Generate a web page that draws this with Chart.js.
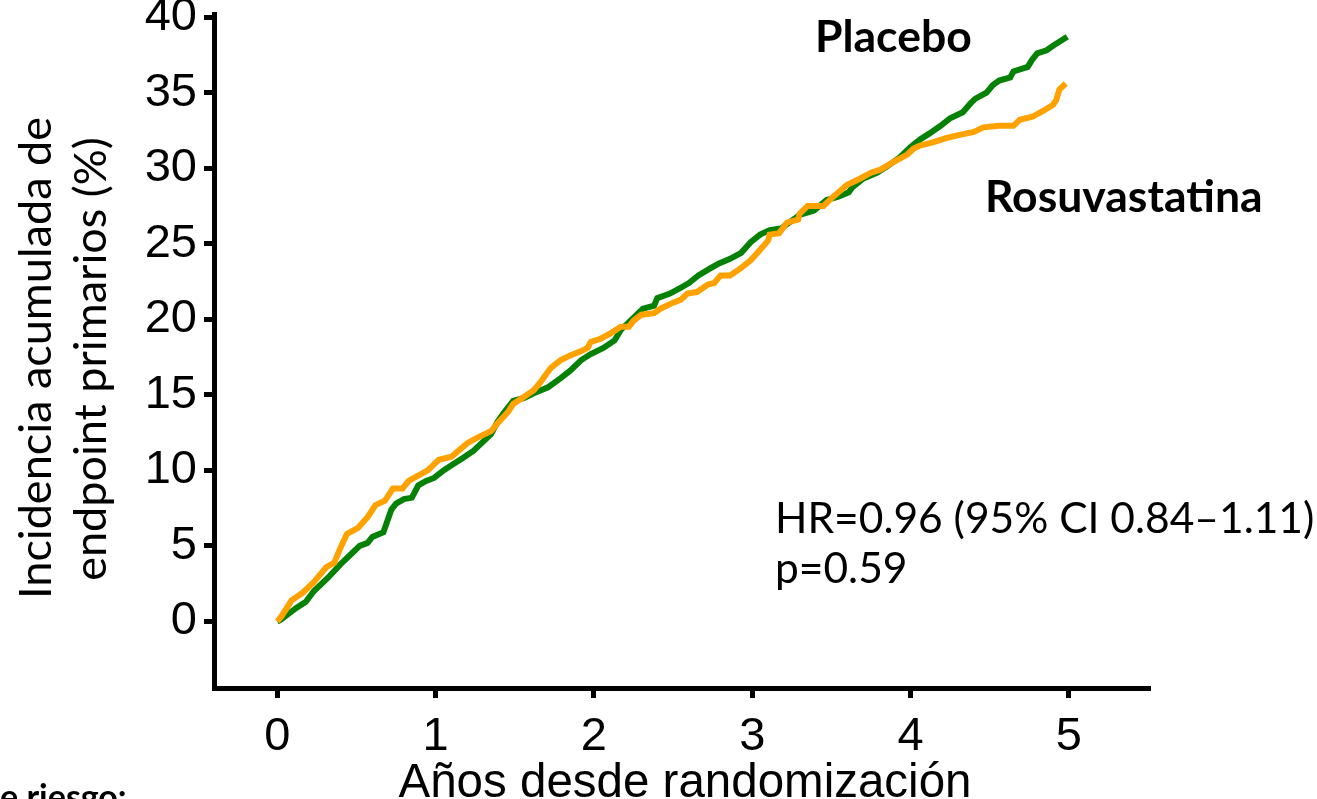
<!DOCTYPE html>
<html>
<head>
<meta charset="utf-8">
<script src="https://cdn.jsdelivr.net/npm/chart.js@4.4.0/dist/chart.umd.min.js"></script>
<style>
  html, body { margin: 0; padding: 0; background: #fff; }
  #wrap { width: 1317px; height: 799px; }
</style>
</head>
<body>
<div id="wrap"><canvas id="chart" width="1317" height="799"></canvas></div>
<script>
// Cumulative incidence of the primary endpoint (%) by years since randomization
const placeboYears = [0, 0.02, 0.12, 0.18, 0.23, 0.32, 0.40, 0.47, 0.52, 0.57, 0.60, 0.67, 0.69, 0.72, 0.75, 0.80, 0.85, 0.89, 0.94, 0.99,
  1.05, 1.11, 1.17, 1.24, 1.29, 1.35, 1.39, 1.43, 1.49, 1.56, 1.62, 1.71, 1.79, 1.85, 1.92, 1.98, 2.06, 2.13, 2.17, 2.21,
  2.28, 2.31, 2.38, 2.40, 2.48, 2.55, 2.60, 2.66, 2.74, 2.79, 2.86, 2.93, 2.99, 3.05, 3.11, 3.18, 3.30, 3.39, 3.47, 3.54,
  3.61, 3.63, 3.70, 3.79, 3.85, 3.93, 4.00, 4.06, 4.12, 4.19, 4.25, 4.33, 4.38, 4.41, 4.48, 4.52, 4.56, 4.63, 4.65, 4.74,
  4.77, 4.80, 4.86, 4.90, 4.93, 4.99];
const placeboPct = [0, 0.1, 0.9, 1.3, 2.0, 2.9, 3.8, 4.5, 5.0, 5.2, 5.6, 5.9, 6.5, 7.4, 7.8, 8.1, 8.2, 9.0, 9.3, 9.5,
  10.0, 10.4, 10.8, 11.3, 11.8, 12.4, 13.2, 13.8, 14.6, 14.8, 15.1, 15.5, 16.1, 16.6, 17.3, 17.7, 18.1, 18.6, 19.3, 19.7,
  20.4, 20.7, 20.9, 21.4, 21.7, 22.1, 22.4, 22.9, 23.4, 23.7, 24.0, 24.4, 25.1, 25.6, 25.9, 26.0, 26.9, 27.2, 27.9, 28.1,
  28.4, 28.7, 29.3, 29.7, 30.1, 30.7, 31.4, 31.9, 32.3, 32.8, 33.3, 33.7, 34.3, 34.6, 35.0, 35.5, 35.8, 36.0, 36.4, 36.7,
  37.2, 37.6, 37.8, 38.1, 38.3, 38.7];

const rosuYears = [0, 0.03, 0.09, 0.16, 0.23, 0.31, 0.36, 0.40, 0.44, 0.51, 0.57, 0.62, 0.68, 0.73, 0.79, 0.83, 0.95, 1.02, 1.10, 1.20,
  1.27, 1.35, 1.39, 1.46, 1.49, 1.55, 1.62, 1.66, 1.70, 1.73, 1.79, 1.85, 1.92, 1.96, 1.98, 2.04, 2.11, 2.17, 2.22, 2.25,
  2.30, 2.38, 2.42, 2.50, 2.55, 2.59, 2.65, 2.72, 2.76, 2.80, 2.86, 2.93, 2.99, 3.05, 3.10, 3.11, 3.17, 3.22, 3.29, 3.30,
  3.35, 3.45, 3.51, 3.60, 3.68, 3.75, 3.81, 3.89, 3.98, 4.02, 4.06, 4.14, 4.23, 4.31, 4.40, 4.46, 4.56, 4.65, 4.69, 4.77,
  4.84, 4.90, 4.92, 4.94, 4.98];
const rosuPct = [0, 0.4, 1.4, 1.9, 2.6, 3.6, 3.9, 4.9, 5.8, 6.2, 6.9, 7.7, 8.0, 8.8, 8.8, 9.3, 10.0, 10.7, 10.9, 11.8,
  12.2, 12.6, 13.1, 13.9, 14.4, 14.8, 15.3, 15.8, 16.4, 16.8, 17.3, 17.6, 17.9, 18.1, 18.5, 18.7, 19.1, 19.5, 19.5, 19.9,
  20.3, 20.4, 20.7, 21.1, 21.3, 21.7, 21.8, 22.3, 22.4, 22.9, 22.9, 23.4, 23.9, 24.6, 25.2, 25.6, 25.7, 26.4, 26.6, 27.0,
  27.5, 27.5, 28.1, 28.9, 29.3, 29.7, 29.9, 30.4, 30.9, 31.3, 31.5, 31.7, 32.0, 32.2, 32.4, 32.7, 32.8, 32.8, 33.2, 33.4,
  33.8, 34.2, 34.5, 35.2, 35.6];

const xTicks = [0, 1, 2, 3, 4, 5];
const yTicks = [0, 5, 10, 15, 20, 25, 30, 35, 40];

const GREEN = '#058205';
const ORANGE = '#ffa200';

const toPoints = (xs, ys) => xs.map((x, i) => ({ x: x, y: ys[i] }));

// Free text on the figure: axis titles, arm labels and the HR box
const labels = [
  { text: 'Incidencia acumulada de', x: 51, y: 358, rot: -Math.PI / 2, align: 'center', font: '45px Lato' },
  { text: 'endpoint primarios (%)', x: 106, y: 359, rot: -Math.PI / 2, align: 'center', font: '45px Lato' },
  { text: 'Años desde randomización', x: 685, y: 797, align: 'center', font: '47.5px "Liberation Sans"' },
  { text: 'Placebo', x: 815, y: 52, font: 'bold 44.5px Lato' },
  { text: 'Rosuvastatina', x: 985, y: 212, font: 'bold 44.5px Lato' },
  { text: 'HR=0.96 (95% CI 0.84\u20131.11)', x: 775, y: 533, font: '42.5px Lato' },
  { text: 'p=0.59', x: 775, y: 583, font: '42.5px Lato' },
  { text: 'e riesgo:', x: 0, y: 809, font: 'bold 34px Lato' }
];

const textPlugin = {
  id: 'figureText',
  afterDraw(chart) {
    const ctx = chart.ctx;
    labels.forEach(l => {
      ctx.save();
      ctx.translate(l.x, l.y);
      if (l.rot) ctx.rotate(l.rot);
      ctx.font = l.font;
      ctx.fillStyle = '#000';
      ctx.textAlign = l.align || 'left';
      ctx.textBaseline = 'alphabetic';
      ctx.fillText(l.text, 0, 0);
      ctx.restore();
    });
  }
};

const axisStyle = {
  display: true,
  drawOnChartArea: false,
  drawTicks: true,
  tickLength: 10,
  lineWidth: 5,
  color: '#000'
};

new Chart(document.getElementById('chart'), {
  type: 'line',
  data: {
    datasets: [
      {
        label: 'Rosuvastatina',
        data: toPoints(rosuYears, rosuPct),
        borderColor: ORANGE,
        borderWidth: 6,
        pointRadius: 0,
        tension: 0
      },
      {
        label: 'Placebo',
        data: toPoints(placeboYears, placeboPct),
        borderColor: GREEN,
        borderWidth: 6,
        pointRadius: 0,
        tension: 0
      }
    ]
  },
  options: {
    responsive: false,
    devicePixelRatio: 1,
    animation: false,
    layout: { padding: { left: 0, top: 14, right: 169, bottom: 0 } },
    plugins: {
      legend: { display: false },
      tooltip: { enabled: false }
    },
    scales: {
      x: {
        type: 'linear',
        min: -0.4,
        max: 5.5,
        grid: axisStyle,
        border: { display: true, width: 5, color: '#000' },
        ticks: {
          color: '#000',
          padding: 11,
          font: { family: '"Liberation Sans", Arial', size: 47 }
        },
        afterBuildTicks: s => { s.ticks = xTicks.map(v => ({ value: v })); },
        afterFit: s => { s.height = 111; s.paddingLeft = 0; s.paddingRight = 0; }
      },
      y: {
        type: 'linear',
        min: -4.4,
        max: 40.2,
        grid: axisStyle,
        border: { display: true, width: 5, color: '#000' },
        ticks: {
          color: '#000',
          padding: 7,
          font: { family: '"Liberation Sans", Arial', size: 47 }
        },
        afterBuildTicks: s => { s.ticks = yTicks.map(v => ({ value: v })); },
        afterFit: s => { s.width = 214; s.paddingTop = 0; s.paddingBottom = 0; }
      }
    }
  },
  plugins: [textPlugin]
});
</script>
</body>
</html>
